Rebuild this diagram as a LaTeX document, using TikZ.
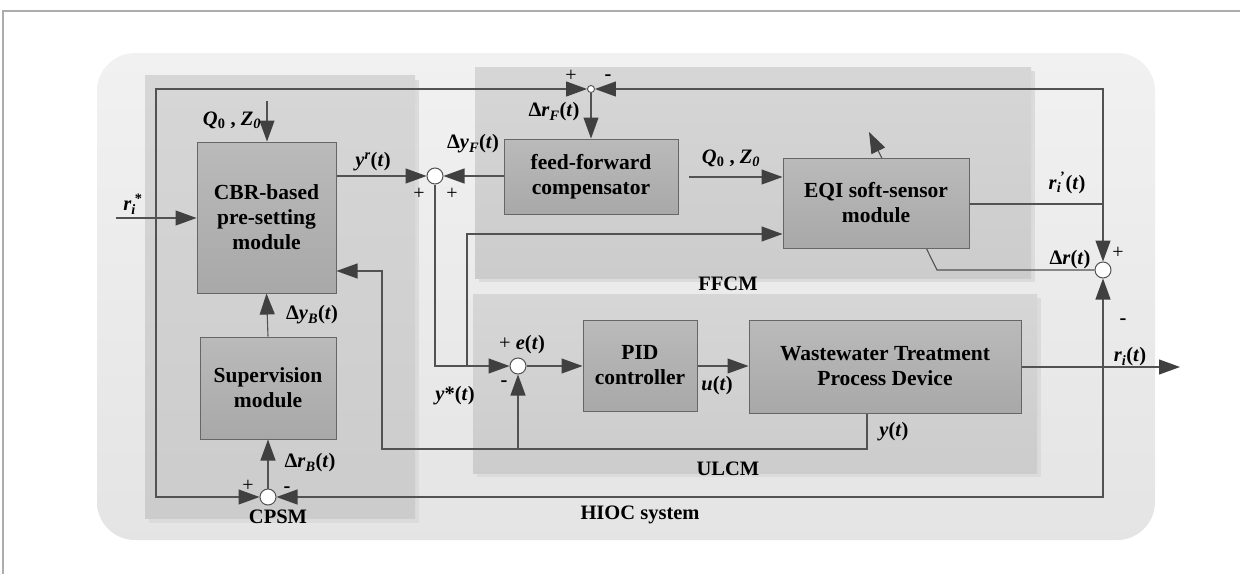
\documentclass[tikz,border=0pt]{standalone}
\usepackage{fontspec}
\setmainfont{Liberation Serif}
\usetikzlibrary{arrows.meta,calc}

\definecolor{ln}{gray}{0.32}
\definecolor{tipc}{gray}{0.25}
\definecolor{frame}{gray}{0.68}
\definecolor{outtop}{gray}{0.945}
\definecolor{outbot}{gray}{0.895}
\definecolor{ptop}{gray}{0.84}
\definecolor{pbot}{gray}{0.80}
\definecolor{pshadow}{gray}{0.86}
\definecolor{btop}{gray}{0.73}
\definecolor{bbot}{gray}{0.66}
\definecolor{bline}{gray}{0.40}

\pgfdeclarelayer{bg}
\pgfdeclarelayer{mid}
\pgfsetlayers{bg,mid,main}

\begin{document}
\begin{tikzpicture}[x=1pt,y=-1pt,
  wire/.style={draw=ln, line width=1.1pt},
  arr/.style={wire, -{Triangle[length=21pt,width=15pt,fill=tipc,color=tipc]}},
  blk/.style={draw=bline, line width=1pt, top color=btop, bottom color=bbot,
    align=center, inner sep=0pt, font=\fontsize{21.5}{25}\selectfont\bfseries},
  sum/.style={circle, draw=ln, line width=1pt, fill=white, minimum size=16pt, inner sep=0pt},
  tinysum/.style={circle, draw=ln, line width=0.9pt, fill=white, minimum size=7pt, inner sep=0pt},
  lab/.style={inner sep=0pt, font=\fontsize{20.5}{22}\selectfont\bfseries},
  sgn/.style={inner sep=0pt, font=\fontsize{20}{22}\selectfont},
  ttl/.style={inner sep=0pt, font=\fontsize{20.5}{22}\selectfont\bfseries}
]
\useasboundingbox (0,0) rectangle (1240,574);

% page frame
\draw[frame, line width=1.3pt] (3,574) -- (3,11) -- (1240,11);

% system outline and module panels
\begin{pgfonlayer}{bg}
  \path[rounded corners=38pt, top color=outtop, bottom color=outbot] (97,53) rectangle (1155,540);
  \fill[pshadow] (149,80) rectangle (419,523);
  \path[top color=ptop, bottom color=pbot] (145,75) rectangle (415,518);
  \fill[pshadow] (479,71) rectangle (1035,282);
  \path[top color=ptop, bottom color=pbot] (475,67) rectangle (1031,278);
  \fill[pshadow] (477,298) rectangle (1041,477);
  \path[top color=ptop, bottom color=pbot] (473,294) rectangle (1037,473);
\end{pgfonlayer}

% blocks
\node[blk, minimum width=139pt, minimum height=151pt] (cbr) at (266.5,217.5) {CBR-based\\pre-setting\\module};
\node[blk, minimum width=136pt, minimum height=102pt] (sup) at (268,388) {Supervision\\module};
\node[blk, minimum width=174pt, minimum height=75pt] (ffc) at (591,176.5) {feed-forward\\compensator};
\node[blk, minimum width=186pt, minimum height=90pt] (eqi) at (876,203) {EQI soft-sensor\\module};
\node[blk, minimum width=114pt, minimum height=91pt] (pid) at (640,365.5) {PID\\controller};
\node[blk, minimum width=272pt, minimum height=93pt] (wtp) at (885,366.5) {Wastewater Treatment\\Process Device};

% summing junctions
\node[sum] (s1) at (435,176) {};
\node[sum] (s2) at (518,366) {};
\node[tinysum] (sF) at (591,89) {};
\node[sum] (sR) at (1103,270) {};
\node[sum] (sB) at (268,497) {};

% free ends and branch points
\coordinate (rin) at (116,218);
\coordinate (jL) at (156,218);
\coordinate (q1) at (267,101);
\coordinate (q2) at (689,177);
\coordinate (jY) at (467,366);
\coordinate (jR) at (1103,204);
\coordinate (jO) at (1103,367);
\coordinate (rout) at (1180,367);
\coordinate (yb) at (867,449);
\coordinate (yl) at (382,449);
\coordinate (bend) at (937,270);
\coordinate (tune) at (869,132);

% adaptation arrow through the soft-sensor block
\begin{pgfonlayer}{mid}
  \draw[arr] (sR.west) -- (bend) -- (tune);
\end{pgfonlayer}

% reference input and its branches
\draw[arr] (rin) -- (cbr.west |- rin);
\draw[arr] (jL) |- (sF.west);
\draw[arr] (jL) |- (sB.west);
\draw[arr] (q1) -- (q1 |- cbr.north);

% set-point path
\draw[arr] (cbr.east |- s1) -- (s1.west);
\draw[arr] (ffc.west |- s1) -- (s1.east);
\draw[arr] (sF.south) -- (sF |- ffc.north);
\draw[arr] (q2) -- (eqi.west |- q2);
\draw[arr] (s1.south) |- (s2.west);
\draw[arr] (jY) |- (eqi.west |- 0,234);

% soft-sensor output
\draw[wire] (eqi.east |- jR) -- (jR);
\draw[arr] (jR) |- (sF.east);
\draw[arr] (jR) -- (sR.north);

% loop control
\draw[arr] (s2.east) -- (pid.west |- s2);
\draw[arr] (pid.east |- s2) -- (wtp.west |- s2);
\draw[arr] (wtp.east |- rout) -- (rout);
\draw[arr] (jO) -- (sR.south);
\draw[arr] (jO) |- (sB.east);

% measured output feedback
\draw[arr] (yb |- wtp.south) -- (yb) -- (yl) |- (cbr.east |- 0,271);
\draw[arr] (s2 |- yb) -- (s2.south);

% supervision path
\draw[arr] (sB.north) -- (sB |- sup.south);
\draw[arr] (sup.north) -- (cbr.south);

% signal labels
\node[lab] at (133,204) {\textit{r}\textsubscript{\textit{i}}\kern-1pt\textsuperscript{*}};
\node[lab] at (232,120) {\textit{Q}\textsubscript{0} , \textit{Z}\textsubscript{\textit{0}}};
\node[lab] at (373,162) {\textit{y}\textsuperscript{\textit{r}}(\textit{t})};
\node[lab] at (473,144) {Δ\textit{y}\textsubscript{\textit{F}}(\textit{t})};
\node[lab] at (554,112) {Δ\textit{r}\textsubscript{\textit{F}}(\textit{t})};
\node[lab] at (731,158) {\textit{Q}\textsubscript{0} , \textit{Z}\textsubscript{\textit{0}}};
\node[lab] at (1067,183) {\textit{r}\textsubscript{\textit{i}}\kern-1pt\textsuperscript{'}(\textit{t})};
\node[lab] at (1070,260) {Δ\textit{r}(\textit{t})};
\node[lab] at (1130,357) {\textit{r}\textsubscript{\textit{i}}(\textit{t})};
\node[lab] at (522,345) {\textmd{+} \textit{e}(\textit{t})};
\node[lab] at (455,396) {\textit{y}*(\textit{t})};
\node[lab] at (717,386) {\textit{u}(\textit{t})};
\node[lab] at (894,432) {\textit{y}(\textit{t})};
\node[lab] at (312,315) {Δ\textit{y}\textsubscript{\textit{B}}(\textit{t})};
\node[lab] at (310,463) {Δ\textit{r}\textsubscript{\textit{B}}(\textit{t})};

% signs at the junctions
\node[sgn] at (419,194) {+};
\node[sgn] at (452,194) {+};
\node[sgn] at (571,76) {+};
\node[lab] at (608,78) {-};
\node[sgn] at (1118,253) {+};
\node[lab] at (1123,322) {-};
\node[lab] at (504,384) {-};
\node[sgn] at (248,486) {+};
\node[lab] at (287,490) {-};

% module titles
\node[ttl] at (278,517) {CPSM};
\node[ttl] at (728,284) {FFCM};
\node[ttl] at (728,469) {ULCM};
\node[ttl] at (640,515) {HIOC system};
\end{tikzpicture}
\end{document}
